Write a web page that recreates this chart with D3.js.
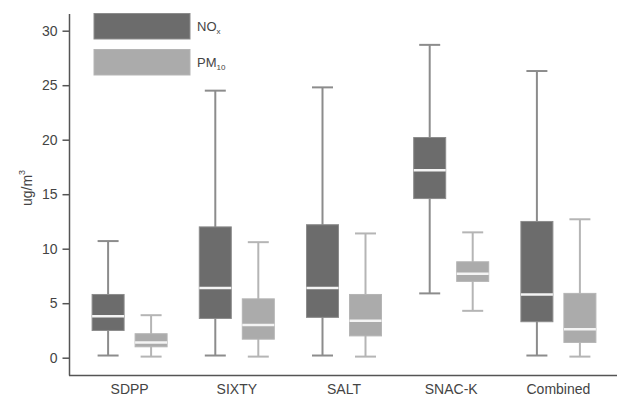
<!DOCTYPE html>
<html>
<head>
<meta charset="utf-8">
<script src="https://cdn.jsdelivr.net/npm/d3@7"></script>
<style>
  body { margin: 0; background: #fff; }
  text { font-family: "Liberation Sans", Arial, sans-serif; }
</style>
</head>
<body>
<script>
// Categories and series
var sites = ["SDPP", "SIXTY", "SALT", "SNAC-K", "Combined"];
var series = ["NOx", "PM10"];
var yTicks = [0, 5, 10, 15, 20, 25, 30];

// Box stats per site: [low whisker, Q1, median, Q3, high whisker]
var noxStats = [
  [0.2, 2.5, 3.8, 5.8, 10.7],
  [0.2, 3.6, 6.4, 12.0, 24.5],
  [0.2, 3.7, 6.4, 12.2, 24.8],
  [5.9, 14.6, 17.2, 20.2, 28.7],
  [0.2, 3.3, 5.8, 12.5, 26.3]
];
var pmStats = [
  [0.1, 1.0, 1.4, 2.2, 3.9],
  [0.1, 1.7, 3.0, 5.4, 10.6],
  [0.1, 2.0, 3.4, 5.8, 11.4],
  [4.3, 7.0, 7.7, 8.8, 11.5],
  [0.1, 1.4, 2.6, 5.9, 12.7]
];

var w = 619, h = 397;
var fillColor = {NOx: "#6c6c6c", PM10: "#ababab"};
var whiskColor = {NOx: "#8c8c8c", PM10: "#b5b5b5"};

var svg = d3.select("body").append("svg")
  .attr("width", w).attr("height", h);

// Scales
var y = d3.scaleLinear().domain([0, 30]).range([357.7, 30.7]);
var x = d3.scaleBand().domain(sites).range([76, 612]).padding(0);
var xs = d3.scaleBand().domain(series).range([-43, 43]);
var boxW = 32, capW = 21;

// Y axis
var yAxis = d3.axisLeft(y).tickValues(yTicks).tickSize(7).tickPadding(5);
var gy = svg.append("g").attr("transform", "translate(69.5,0)").call(yAxis);
gy.select(".domain").remove();
gy.selectAll(".tick line").attr("stroke", "#555").attr("stroke-width", 1.5);
gy.selectAll(".tick text").attr("fill", "#444").style("font-size", "14px");
svg.append("line").attr("x1", 69.5).attr("x2", 69.5).attr("y1", 14).attr("y2", 375.5)
  .attr("stroke", "#555").attr("stroke-width", 1.5);

// X axis
var xAxis = d3.axisBottom(x).tickSize(0).tickPadding(9);
var gx = svg.append("g").attr("transform", "translate(0,375.5)").call(xAxis);
gx.select(".domain").remove();
gx.selectAll(".tick text").attr("fill", "#444").style("font-size", "14px");
svg.append("line").attr("x1", 69).attr("x2", 617).attr("y1", 375.5).attr("y2", 375.5)
  .attr("stroke", "#555").attr("stroke-width", 1.5);

// Y label
var yl = svg.append("text")
  .attr("transform", "translate(32,188) rotate(-90)")
  .attr("text-anchor", "middle").attr("fill", "#444").style("font-size", "14px");
yl.append("tspan").text("ug/m");
yl.append("tspan").attr("dy", -7).style("font-size", "9px").text("3");

// Boxes
function drawBoxes(stats, s) {
  var g = svg.append("g");
  sites.forEach(function(site, i) {
    var d = stats[i];
    var cx = x(site) + x.bandwidth() / 2 + xs(s) + xs.bandwidth() / 2;
    var c = whiskColor[s];
    g.append("line").attr("x1", cx).attr("x2", cx).attr("y1", y(d[0])).attr("y2", y(d[4]))
      .attr("stroke", c).attr("stroke-width", 2);
    [d[0], d[4]].forEach(function(v) {
      g.append("line").attr("x1", cx - capW / 2).attr("x2", cx + capW / 2)
        .attr("y1", y(v)).attr("y2", y(v)).attr("stroke", c).attr("stroke-width", 2);
    });
    g.append("rect").attr("x", cx - boxW / 2).attr("width", boxW)
      .attr("y", y(d[3])).attr("height", y(d[1]) - y(d[3]))
      .attr("fill", fillColor[s]).attr("stroke", c).attr("stroke-width", 1);
    g.append("line").attr("x1", cx - boxW / 2).attr("x2", cx + boxW / 2)
      .attr("y1", y(d[2])).attr("y2", y(d[2])).attr("stroke", "#f4f4f4").attr("stroke-width", 2.5);
  });
}
drawBoxes(noxStats, "NOx");
drawBoxes(pmStats, "PM10");

// Legend
var leg = svg.append("g");
[["NOx", "NO", "x", 13.5], ["PM10", "PM", "10", 49.5]].forEach(function(l) {
  leg.append("rect").attr("x", 94).attr("y", l[3]).attr("width", 96).attr("height", 25.5)
    .attr("fill", fillColor[l[0]]).attr("stroke", whiskColor[l[0]]).attr("stroke-width", 1);
  var t = leg.append("text").attr("x", 197).attr("y", l[3] + 17.5)
    .attr("fill", "#444").style("font-size", "13px");
  t.append("tspan").text(l[1]);
  t.append("tspan").attr("dy", 3).style("font-size", "8px").text(l[2]);
});
</script>
</body>
</html>
